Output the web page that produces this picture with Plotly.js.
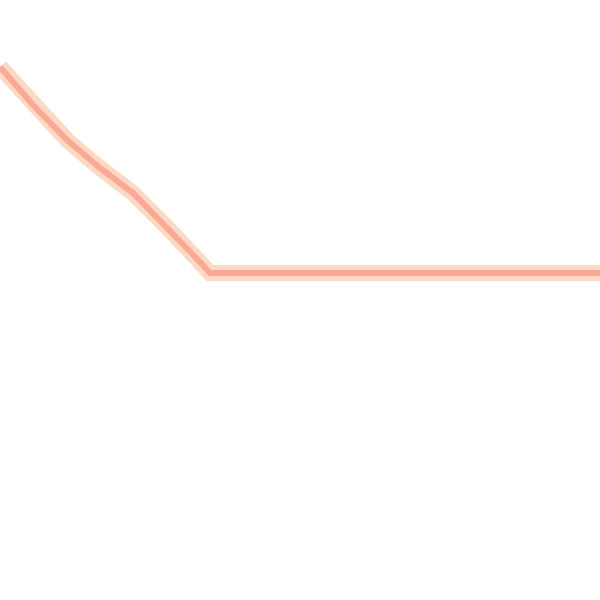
<!DOCTYPE html>
<html>
<head>
<meta charset="utf-8">
<script src="https://cdn.plot.ly/plotly-3.0.1.min.js"></script>
<style>
  html, body { margin: 0; padding: 0; background: #fff; }
  #chart { width: 600px; height: 600px; }
</style>
</head>
<body>
<div id="chart"></div>
<script>
// values (hidden axes, 0..60 both ways)
var xVals = [0, 3.3, 6.7, 10, 13.3, 16.7, 20, 21, 30, 40, 50, 60];
var yVals = [53.3, 49.5, 46.0, 43.2, 40.7, 37.3, 33.8, 32.7, 32.7, 32.7, 32.7, 32.7];

// soft halo under the line, then the line itself
var halo = {
	x: xVals,
	y: yVals,
	mode: 'lines',
	line: {color: '#fdd9c4', width: 16},
	hoverinfo: 'skip'
};
var core = {
	x: xVals,
	y: yVals,
	mode: 'lines',
	line: {color: '#f9a995', width: 6}
};

var layout = {
	width: 600,
	height: 600,
	margin: {l: 0, r: 0, t: 0, b: 0},
	paper_bgcolor: '#ffffff',
	plot_bgcolor: '#ffffff',
	showlegend: false,
	xaxis: {range: [0, 60], visible: false, fixedrange: true},
	yaxis: {range: [0, 60], visible: false, fixedrange: true}
};

Plotly.newPlot('chart', [halo, core], layout, {displayModeBar: false, staticPlot: true});
</script>
</body>
</html>
